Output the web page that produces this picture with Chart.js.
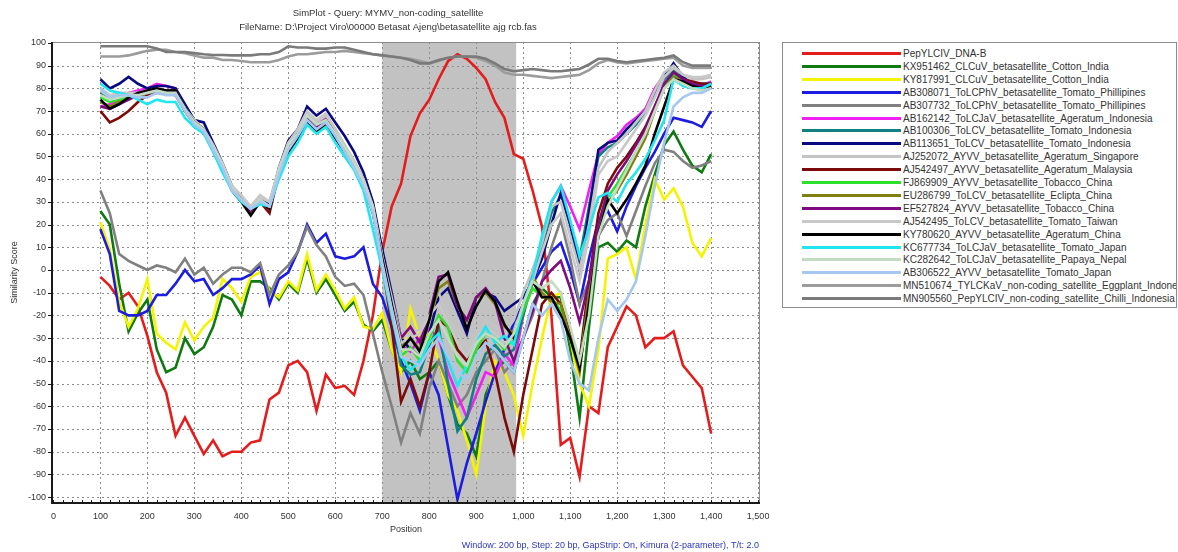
<!DOCTYPE html>
<html>
<head>
<meta charset="utf-8">
<script src="https://cdn.jsdelivr.net/npm/chart.js@4.4.1/dist/chart.umd.min.js"></script>
<style>
  body { margin: 0; background: #fff; width: 1178px; height: 552px; overflow: hidden; font-family: "Liberation Sans", Arial, sans-serif; }
  #wrap { position: absolute; left: 0; top: 0; width: 780px; height: 552px; }
  #legend { position: absolute; left: 782px; top: 42px; width: 395px; height: 266px; border: 1px solid #8c8c8c; box-sizing: border-box; overflow: hidden; }
  .row { position: absolute; left: 0; height: 13px; width: 700px; white-space: nowrap; }
  .row i { position: absolute; left: 19px; top: 5px; width: 99px; height: 3px; }
  .row span { position: absolute; left: 120px; top: 0; font-size: 10px; line-height: 13px; color: #333; }
</style>
</head>
<body>
<div id="wrap"><canvas id="chart" width="780" height="552"></canvas></div>
<div id="legend"></div>
<script>
// window positions (bp), step 20
const positions = [100,120,140,160,180,200,220,240,260,280,300,320,340,360,380,400,420,440,460,480,
  500,520,540,560,580,600,620,640,660,680,700,720,740,760,780,800,820,840,860,880,
  900,920,940,960,980,1000,1020,1040,1060,1080,1100,1120,1140,1160,1180,1200,1220,1240,1260,1280,
  1300,1320,1340,1360,1380,1400];

const xTicks = [0,100,200,300,400,500,600,700,800,900,1000,1100,1200,1300,1400,1500];
const yTicks = [100,90,80,70,60,50,40,30,20,10,0,-10,-20,-30,-40,-50,-60,-70,-80,-90,-100];

// similarity scores
const pepDnaB = [-3,-7,-13,-10,-16,-29,-45,-54,-73,-65,-73,-81,-75,-82,-80,-80,-76,-75,-57,-54,
  -42,-40,-45,-62,-46,-52,-51,-55,-40,-20,8,28,38,59,69,75,84,92,95,93,
  89,84,74,67,51,49,35,19,-20,-77,-74,-91,-60,-63,-34,-25,-16,-20,-34,-30,
  -30,-27,-42,-47,-52,-72];
const kx951462 = [26,20,-6,-27,-19,-13,-35,-45,-43,-30,-37,-34,-25,-11,-13,-20,-5,-5,-8,-13,
  -6,-10,5,-10,-4,-11,-18,-14,-24,-27,-22,-35,-45,-40,-48,-45,-40,-55,-68,-72,
  -82,-55,-45,-40,-45,-30,-15,-8,-12,-12,-35,-65,-25,10,12,8,13,10,28,42,
  55,61,53,46,43,51];
const ky817991 = [21,9,-14,-25,-17,-4,-28,-32,-35,-23,-31,-25,-21,-4,-8,-14,-3,-1,-9,-12,
  -5,-9,7,-9,-2,-9,-17,-12,-25,-26,-19,-35,-45,-17,-30,-28,-40,-55,-62,-75,
  -90,-60,-40,-45,-55,-73,-50,-30,-12,-10,-30,-50,-60,-35,5,7,10,-4,20,40,
  31,36,28,12,6,14];
const ab308071 = [18,7,-18,-20,-20,-18,-11,-11,-6,0,-5,-4,-11,-8,-4,-4,-2,2,-15,-4,
  -1,8,20,12,16,6,5,6,10,-6,-12,-25,-40,-50,-62,-45,-55,-78,-101,-85,
  -72,-58,-45,-35,-23,-15,-6,1,8,12,0,-15,5,22,26,17,28,37,45,52,
  60,67,66,65,63,70];
const ab307732 = [35,25,7,4,2,0,2,1,-1,5,-2,1,-6,-2,1,1,-1,3,-11,-2,
  2,8,19,11,6,-3,-7,-6,-11,-28,-45,-60,-76,-63,-72,-52,-40,-50,-60,-55,
  -45,-40,-35,-45,-40,-30,-20,-5,10,22,5,-15,-5,15,22,25,15,26,37,47,
  53,52,48,45,46,48];
const ab162142 = [72,73,75,78,79,80,82,81,80,72,65,62,55,46,36,31,26,30,28,44,
  55,61,68,65,67,61,54,47,39,27,5,-15,-33,-36,-30,-26,-30,-45,-55,-65,
  -55,-45,-47,-37,-42,-20,0,10,30,37,28,18,35,51,56,59,64,67,71,80,
  86,88,84,82,81,83];
const ab100306 = [78,76,77,76,76,78,79,79,78,71,65,62,54,46,36,31,27,30,28,43,
  54,60,67,64,66,60,53,46,38,26,4,-18,-42,-46,-45,-33,-25,-50,-71,-65,
  -48,-37,-33,-38,-35,-20,-5,10,25,33,20,5,28,50,54,56,60,64,69,77,
  84,88,84,81,81,82];
const ab113651 = [84,80,82,85,82,80,81,81,80,73,66,65,56,47,37,32,26,31,29,45,
  57,62,72,68,71,65,59,52,43,30,9,-10,-30,-35,-38,-28,-12,-8,-18,-28,
  -12,-10,-12,-18,-15,-12,-5,5,20,34,20,0,25,53,56,57,62,66,70,78,
  85,91,85,82,82,82];
const aj252072 = [79,76,77,77,77,78,79,78,78,71,66,62,55,46,37,32,28,32,30,44,
  56,61,69,65,68,62,55,48,40,28,6,-12,-30,-28,-26,-18,-10,-20,-28,-34,
  -28,-22,-25,-28,-22,-10,0,12,28,30,15,0,20,45,52,56,60,65,70,79,
  87,90,86,84,84,85];
const aj542497 = [70,65,67,70,74,77,78,78,77,70,64,62,54,45,36,31,26,30,25,43,
  54,60,67,63,66,60,53,46,38,26,3,-25,-58,-48,-60,-45,-22,-25,-35,-40,
  -35,-31,-45,-65,-80,-55,-35,-15,-10,-15,-28,-40,-5,25,38,45,50,56,63,72,
  81,87,84,83,82,82];
const fj869909 = [76,74,75,76,77,78,79,78,78,71,65,62,54,45,36,31,27,30,28,43,
  54,60,67,63,66,60,53,46,38,26,4,-18,-38,-34,-40,-30,-20,-25,-40,-45,
  -35,-28,-30,-35,-30,-18,-8,-12,-12,-18,-30,-42,-12,18,32,38,45,52,60,71,
  81,86,83,81,80,81];
const eu286799 = [74,72,74,75,77,78,79,79,79,71,65,62,54,45,36,31,26,30,27,43,
  54,60,67,63,66,60,53,46,38,26,5,-16,-34,-30,-35,-22,-8,-5,-16,-22,
  -12,-10,-15,-25,-28,-15,-3,-10,-14,-15,-30,-45,-10,15,30,35,42,50,58,70,
  80,85,83,82,80,81];
const ef527824 = [72,71,73,75,77,78,79,79,79,71,65,62,54,45,36,31,26,30,27,43,
  54,60,67,63,66,60,53,46,38,26,5,-15,-30,-25,-32,-20,-3,-2,-16,-22,
  -12,-8,-14,-30,-40,-30,-18,-5,0,4,-8,-23,-5,20,35,42,48,55,62,72,
  82,87,84,82,81,81];
const aj542495 = [80,77,78,78,78,79,79,79,78,71,66,62,55,47,37,33,28,33,30,45,
  56,62,70,66,69,62,55,48,40,28,6,-14,-32,-30,-28,-20,-15,-23,-32,-38,
  -30,-25,-28,-32,-30,-15,-5,8,20,25,10,-5,15,42,48,50,56,62,68,76,
  85,89,86,85,85,86];
const ky780620 = [75,71,73,76,78,79,80,79,79,71,65,62,53,45,35,30,24,30,27,42,
  52,58,65,61,64,58,52,45,37,25,5,-15,-35,-30,-36,-22,-5,-1,-14,-26,
  -16,-9,-14,-24,-30,-15,-5,-12,-12,-20,-30,-43,-15,15,31,25,31,38,46,60,
  72,84,83,81,80,81];
const kc677734 = [82,79,78,77,75,73,75,74,74,67,63,60,52,43,35,30,27,29,28,40,
  50,56,64,60,63,56,50,44,35,18,0,-20,-38,-44,-40,-32,-28,-40,-51,-42,
  -32,-25,-32,-29,-33,-15,-3,15,30,37,22,6,18,32,34,30,38,43,49,57,
  66,84,81,80,80,82];
const kc282642 = [77,75,76,77,77,78,79,78,78,71,65,62,54,46,36,31,27,31,28,44,
  55,60,68,64,66,60,54,47,39,27,3,-17,-35,-35,-38,-28,-22,-30,-38,-42,
  -32,-28,-30,-34,-28,-15,-5,-8,-5,-10,-25,-40,-20,15,28,36,44,52,60,70,
  80,84,82,80,79,80];
const ab306522 = [80,76,77,77,76,76,78,77,77,70,64,61,53,45,35,31,27,30,28,42,
  53,59,66,62,65,59,52,45,37,25,2,-18,-38,-40,-42,-35,-30,-38,-45,-48,
  -38,-32,-35,-40,-45,-30,-15,-20,-15,-22,-40,-50,-53,-30,-13,-18,-13,-5,15,37,
  56,72,76,78,78,80];
const mn510674 = [94,94,94,94.5,95.5,96.5,97,97,96,95.5,94.5,93.5,93.5,92.5,92.5,92,91.5,91.5,91.5,92.5,
  94,95,95,95.5,96,96,96.5,96,95.5,95,94.5,94,93.5,93,92,91,92,93.5,94,94,
  93.5,92,90,87,86,86,85.5,85,84.5,85,85.5,86,88,91,92.5,91.5,91,91.5,92,92.5,
  93,93.5,90,89,89,89];
const mn905560 = [98.5,98.5,98.5,98.5,98.5,98.5,97.5,96,96,96,95.5,95,94.7,94.7,94.5,94.5,94.5,95,95,96,
  98.5,98,98,97.5,97.5,98,98,97,96,95,94.5,94,93.5,92.5,91,91,92.5,93.5,94,94,
  94,93,91,88.5,87.5,88,88.5,88,87.5,87.5,88,88.5,90.5,93,93,92,91.5,92,92.5,93,
  93.5,94.5,91.5,90,90,90];

const seriesNames = [
  'PepYLCIV_DNA-B',
  'KX951462_CLCuV_betasatellite_Cotton_India',
  'KY817991_CLCuV_betasatellite_Cotton_India',
  'AB308071_ToLCPhV_betasatellite_Tomato_Phillipines',
  'AB307732_ToLCPhV_betasatellite_Tomato_Phillipines',
  'AB162142_ToLCJaV_betasatellite_Ageratum_Indonesia',
  'AB100306_ToLCV_betasatellite_Tomato_Indonesia',
  'AB113651_ToLCV_betasatellite_Tomato_Indonesia',
  'AJ252072_AYVV_betasatellite_Ageratum_Singapore',
  'AJ542497_AYVV_betasatellite_Ageratum_Malaysia',
  'FJ869909_AYVV_betasatellite_Tobacco_China',
  'EU286799_ToLCV_betasatellite_Eclipta_China',
  'EF527824_AYVV_betasatellite_Tobacco_China',
  'AJ542495_ToLCV_betasatellite_Tomato_Taiwan',
  'KY780620_AYVV_betasatellite_Ageratum_China',
  'KC677734_ToLCJaV_betasatellite_Tomato_Japan',
  'KC282642_ToLCJaV_betasatellite_Papaya_Nepal',
  'AB306522_AYVV_betasatellite_Tomato_Japan',
  'MN510674_TYLCKaV_non-coding_satellite_Eggplant_Indonesia',
  'MN905560_PepYLCIV_non-coding_satellite_Chilli_Indonesia'
];
const seriesValues = [pepDnaB, kx951462, ky817991, ab308071, ab307732, ab162142, ab100306, ab113651,
  aj252072, aj542497, fj869909, eu286799, ef527824, aj542495, ky780620, kc677734, kc282642, ab306522,
  mn510674, mn905560];
const seriesColors = ['#e41c1c','#0f7a12','#f4f400','#1c1ce0','#808080','#f020f0','#108080','#0a0a80',
  '#c4c4c4','#7c0a0a','#2ee02e','#808010','#800a80','#c8c8c8','#000000','#20e6f0','#c2dcc2','#a6c8f0',
  '#9c9c9c','#7a7a7a'];

// query region highlighted in grey
const shadeFrom = 700, shadeTo = 985;

const textColor = '#333';
const fontFamily = '"Liberation Sans", Arial, sans-serif';

const legend = document.getElementById('legend');
seriesNames.forEach((name, i) => {
  const row = document.createElement('div');
  row.className = 'row';
  row.style.top = (4 + i * 12.9) + 'px';
  row.innerHTML = '<i style="background:' + seriesColors[i] + '"></i><span>' + name + '</span>';
  legend.appendChild(row);
});

const simplotDecor = {
  id: 'simplotDecor',
  beforeDraw(chart) {
    const { ctx, chartArea: a, scales: { x } } = chart;
    ctx.save();
    ctx.fillStyle = '#c2c2c2';
    const x1 = x.getPixelForValue(shadeFrom), x2 = x.getPixelForValue(shadeTo);
    ctx.fillRect(x1, a.top, x2 - x1, a.bottom - a.top);
    ctx.restore();
  },
  beforeDatasetsDraw(chart) {
    const { ctx, chartArea: a, scales: { x, y } } = chart;
    ctx.save();
    ctx.strokeStyle = '#8e8e8e';
    ctx.lineWidth = 1;
    ctx.setLineDash([2, 3]);
    ctx.beginPath();
    xTicks.forEach(v => {
      if (v === 0) return;
      const px = Math.round(x.getPixelForValue(v)) + 0.5;
      ctx.moveTo(px, a.top); ctx.lineTo(px, a.bottom);
    });
    yTicks.forEach(v => {
      if (v === 100) return;
      const py = Math.round(y.getPixelForValue(v)) + 0.5;
      ctx.moveTo(a.left, py); ctx.lineTo(a.right, py);
    });
    ctx.stroke();
    ctx.restore();
  },
  afterDraw(chart) {
    const { ctx, chartArea: a, scales: { x, y } } = chart;
    ctx.save();
    // frame
    ctx.strokeStyle = '#8a8a8a';
    ctx.lineWidth = 1;
    ctx.beginPath();
    ctx.moveTo(a.left, a.top + 0.5); ctx.lineTo(a.right, a.top + 0.5);
    ctx.moveTo(a.right - 0.5, a.top); ctx.lineTo(a.right - 0.5, a.bottom);
    ctx.stroke();
    ctx.strokeStyle = '#1a1a1a';
    ctx.lineWidth = 2;
    ctx.beginPath();
    ctx.moveTo(a.left, a.top); ctx.lineTo(a.left, a.bottom + 1);
    ctx.moveTo(a.left - 1, a.bottom); ctx.lineTo(a.right, a.bottom);
    ctx.stroke();
    // small ticks
    ctx.lineWidth = 1;
    ctx.beginPath();
    for (let v = 0; v <= 1500; v += 20) {
      const px = Math.round(x.getPixelForValue(v)) + 0.5;
      ctx.moveTo(px, a.bottom); ctx.lineTo(px, a.bottom - 3);
    }
    yTicks.forEach(v => {
      const py = Math.round(y.getPixelForValue(v)) + 0.5;
      ctx.moveTo(a.left - 4, py); ctx.lineTo(a.left, py);
    });
    ctx.stroke();
    // titles
    ctx.fillStyle = textColor;
    ctx.textAlign = 'center';
    ctx.textBaseline = 'middle';
    ctx.font = '9.5px ' + fontFamily;
    ctx.fillText('SimPlot - Query: MYMV_non-coding_satellite', 388, 13);
    ctx.fillText('FileName: D:\\Project Viro\\00000 Betasat Ajeng\\betasatellite ajg rcb.fas', 388, 27);
    ctx.font = '9px ' + fontFamily;
    ctx.fillText('Position', (a.left + a.right) / 2, 530);
    ctx.save();
    ctx.translate(15, (a.top + a.bottom) / 2);
    ctx.rotate(-Math.PI / 2);
    ctx.fillText('Similarity Score', 0, 0);
    ctx.restore();
    ctx.textAlign = 'right';
    ctx.fillStyle = '#2b36b8';
    ctx.fillText('Window: 200 bp, Step: 20 bp, GapStrip: On, Kimura (2-parameter), T/t: 2.0', 759, 546);
    ctx.restore();
  }
};

new Chart(document.getElementById('chart'), {
  type: 'line',
  data: {
    datasets: seriesNames.map((name, i) => ({
      label: name,
      data: positions.map((p, j) => ({ x: p, y: seriesValues[i][j] })),
      borderColor: seriesColors[i],
      backgroundColor: seriesColors[i],
      borderWidth: 2.6,
      pointRadius: 0,
      tension: 0,
      fill: false,
      order: seriesNames.length - i
    }))
  },
  options: {
    responsive: false,
    animation: false,
    devicePixelRatio: 1,
    layout: { padding: { top: 42, right: 20, left: 0, bottom: 0 } },
    scales: {
      x: {
        type: 'linear',
        min: -3,
        max: 1504,
        afterFit: s => { s.height = 49; },
        afterBuildTicks: s => { s.ticks = xTicks.map(v => ({ value: v })); },
        grid: { display: false, drawTicks: false },
        border: { display: false },
        ticks: {
          padding: 8,
          color: textColor,
          font: { size: 9, family: fontFamily },
          maxRotation: 0,
          callback: v => v.toLocaleString('en-US')
        }
      },
      y: {
        min: -102.6,
        max: 100.4,
        afterFit: s => { s.width = 52; },
        afterBuildTicks: s => { s.ticks = yTicks.map(v => ({ value: v })); },
        grid: { display: false, drawTicks: false },
        border: { display: false },
        ticks: {
          padding: 6,
          color: textColor,
          font: { size: 9, family: fontFamily }
        }
      }
    },
    plugins: {
      legend: { display: false },
      tooltip: { enabled: false }
    }
  },
  plugins: [simplotDecor]
});
</script>
</body>
</html>
